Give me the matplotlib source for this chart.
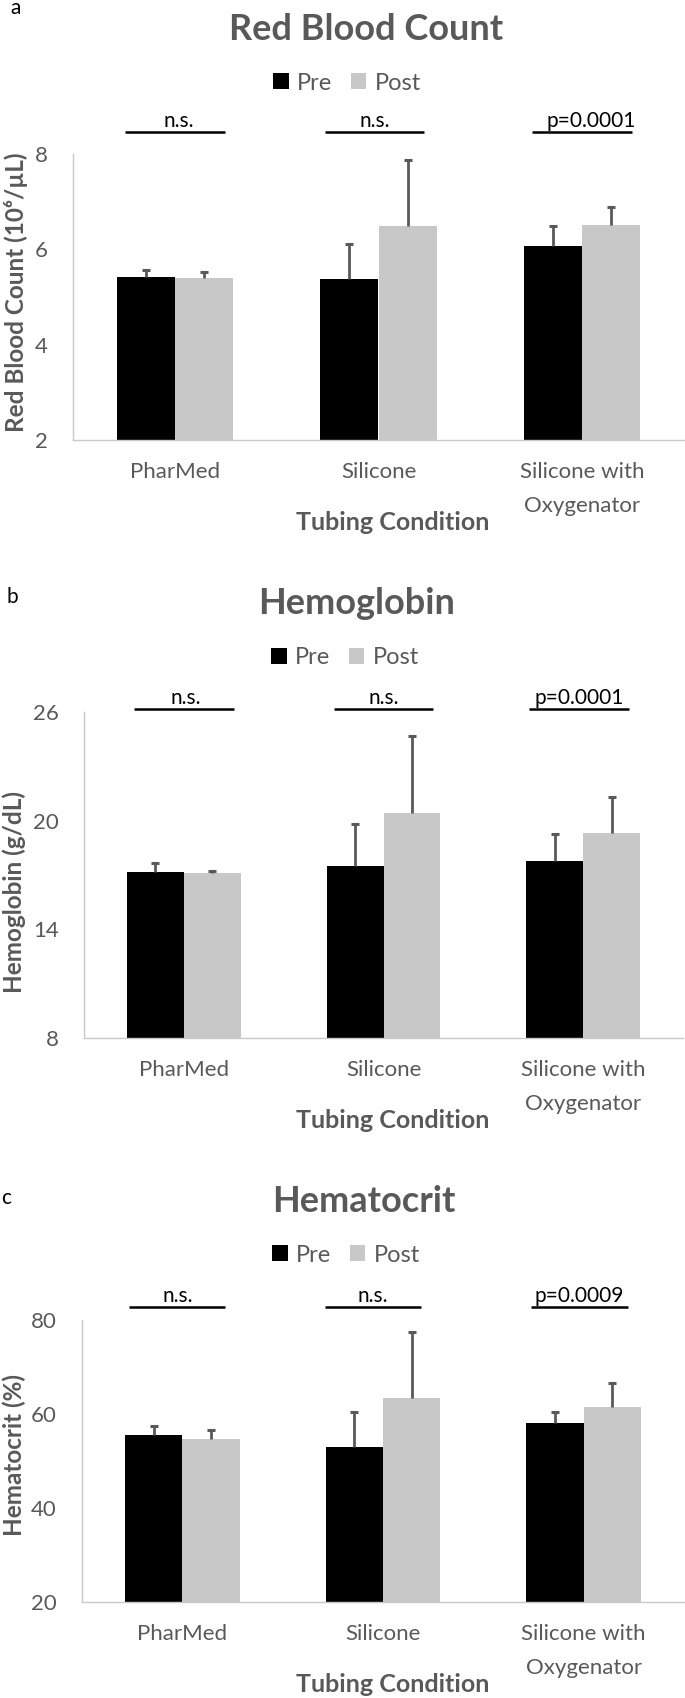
import matplotlib
matplotlib.use("Agg")
import matplotlib.pyplot as plt
import numpy as np
from matplotlib.transforms import blended_transform_factory
from matplotlib.patches import Patch

plt.rcParams['font.family'] = ['Lato', 'DejaVu Sans']

# ---------------- data ----------------
categories = ["PharMed", "Silicone", "Silicone with\nOxygenator"]
series_names = ["Pre", "Post"]

rbc_pre = [5.42, 5.38, 6.08]
rbc_pre_err = [0.14, 0.74, 0.40]
rbc_post = [5.39, 6.49, 6.52]
rbc_post_err = [0.14, 1.38, 0.36]
rbc_ticks = [2, 4, 6, 8]
rbc_sig = ["n.s.", "n.s.", "p=0.0001"]

hgb_pre = [17.19, 17.50, 17.78]
hgb_pre_err = [0.45, 2.34, 1.47]
hgb_post = [17.11, 20.43, 19.31]
hgb_post_err = [0.12, 4.23, 1.97]
hgb_ticks = [8, 14, 20, 26]
hgb_sig = ["n.s.", "n.s.", "p=0.0001"]

hct_pre = [55.6, 52.9, 58.0]
hct_pre_err = [1.85, 7.5, 2.4]
hct_post = [54.7, 63.5, 61.5]
hct_post_err = [1.8, 13.9, 5.0]
hct_ticks = [20, 40, 60, 80]
hct_sig = ["n.s.", "n.s.", "p=0.0009"]

# ---------------- style ----------------
W, H = 685, 1698
DPI = 100
PRE_C = "#000000"
POST_C = "#c8c8c8"
GRAY = "#595959"
ERR_C = "#595959"
SPINE_C = "#c8c8c8"

fig = plt.figure(figsize=(W / DPI, H / DPI), dpi=DPI)


def fx(x):
    return x / W


def fy(y):
    return 1 - y / H


panels = [
    dict(letter="a", title="Red Blood Count", ylabel="Red Blood Count (10\u2076/\u00b5L)",
         pre=rbc_pre, pre_err=rbc_pre_err, post=rbc_post, post_err=rbc_post_err,
         ticks=rbc_ticks, sig=rbc_sig,
         box=(73, 684, 154, 440), letter_xy=(10, 8), title_xy=(366, 30), legend_xy=(347, 83),
         sig_y=132, sig_half=0.245, sig_off=[0.0, -0.02, 0.0], txt_off=[0.02, 0.0, 0.045],
         ylab_xy=(16, 292), xlab_xy=(393, 523)),
    dict(letter="b", title="Hemoglobin", ylabel="Hemoglobin (g/dL)",
         pre=hgb_pre, pre_err=hgb_pre_err, post=hgb_post, post_err=hgb_post_err,
         ticks=hgb_ticks, sig=hgb_sig,
         box=(84, 683, 712, 1038), letter_xy=(7, 597), title_xy=(357, 604), legend_xy=(345, 658),
         sig_y=709, sig_half=0.25, sig_off=[0.0, 0.0, -0.02], txt_off=[0.01, 0.0, 0.0],
         ylab_xy=(14, 892), xlab_xy=(393, 1120)),
    dict(letter="c", title="Hematocrit", ylabel="Hematocrit (%)",
         pre=hct_pre, pre_err=hct_pre_err, post=hct_post, post_err=hct_post_err,
         ticks=hct_ticks, sig=hct_sig,
         box=(82, 684, 1320, 1602), letter_xy=(1, 1198), title_xy=(364, 1201), legend_xy=(346, 1255),
         sig_y=1307, sig_half=0.24, sig_off=[-0.025, -0.05, -0.02], txt_off=[0.0, 0.0, 0.0],
         ylab_xy=(14, 1455), xlab_xy=(393, 1685)),
]

x = np.arange(len(categories))
bw = 0.285


def plus_errorbar(ax, xs, ys, errs):
    _, caps, _ = ax.errorbar(xs, ys, yerr=[np.zeros(len(ys)), errs], fmt="none",
                             ecolor=ERR_C, elinewidth=2.0, capsize=2.8, capthick=2.2, zorder=3)
    # hide the lower caps (only the "plus" side is shown)
    if len(caps) >= 2:
        caps[0].set_visible(False)


for p in panels:
    l, r, t, b = p["box"]
    ax = fig.add_axes([fx(l), fy(b), (r - l) / W, (b - t) / H])
    ax.bar(x - bw / 2, p["pre"], width=bw, color=PRE_C, zorder=2, label=series_names[0])
    ax.bar(x + bw / 2, p["post"], width=bw, color=POST_C, zorder=2, label=series_names[1])
    plus_errorbar(ax, x - bw / 2, p["pre"], p["pre_err"])
    plus_errorbar(ax, x + bw / 2, p["post"], p["post_err"])
    ax.set_xlim(-0.5, len(categories) - 0.5)
    ax.set_ylim(p["ticks"][0], p["ticks"][-1])
    ax.set_yticks(p["ticks"])
    ax.set_xticks(x)
    ax.set_xticklabels(categories, linespacing=1.85)
    for s in ["top", "right"]:
        ax.spines[s].set_visible(False)
    for s in ["left", "bottom"]:
        ax.spines[s].set_color(SPINE_C)
        ax.spines[s].set_linewidth(1.0)
    ax.tick_params(axis="y", length=0, pad=18, labelsize=16, labelcolor=GRAY)
    ax.tick_params(axis="x", length=0, pad=16, labelsize=16, labelcolor=GRAY)

    # panel letter, title, axis titles
    fig.text(fx(p["letter_xy"][0]), fy(p["letter_xy"][1]), p["letter"], fontsize=15,
             color="black", ha="left", va="center")
    fig.text(fx(p["title_xy"][0]), fy(p["title_xy"][1]), p["title"], fontsize=26,
             fontweight="bold", color=GRAY, ha="center", va="center")
    fig.text(fx(p["ylab_xy"][0]), fy(p["ylab_xy"][1]), p["ylabel"], fontsize=17.5,
             fontweight="bold", color=GRAY, ha="center", va="center", rotation=90)
    fig.text(fx(p["xlab_xy"][0]), fy(p["xlab_xy"][1]), "Tubing Condition", fontsize=18,
             fontweight="bold", color=GRAY, ha="center", va="center")

    # legend
    handles = [Patch(facecolor=PRE_C), Patch(facecolor=POST_C)]
    fig.legend(handles, series_names, loc="center", ncol=2, frameon=False,
               bbox_to_anchor=(fx(p["legend_xy"][0]), fy(p["legend_xy"][1])),
               bbox_transform=fig.transFigure, fontsize=17, labelcolor=GRAY,
               handlelength=0.65, handleheight=0.65, handletextpad=0.35,
               columnspacing=0.8, borderpad=0, borderaxespad=0)

    # significance annotations
    tr = blended_transform_factory(ax.transData, fig.transFigure)
    for i, s in enumerate(p["sig"]):
        cx = x[i] + p["sig_off"][i]
        ax.plot([cx - p["sig_half"], cx + p["sig_half"]], [fy(p["sig_y"])] * 2,
                color="black", lw=1.8, transform=tr, clip_on=False, solid_capstyle="butt")
        ax.text(cx + p["txt_off"][i], fy(p["sig_y"] - 5), s, transform=tr, ha="center",
                va="baseline", fontsize=15, color="black")

fig.savefig("out.png", dpi=DPI)
